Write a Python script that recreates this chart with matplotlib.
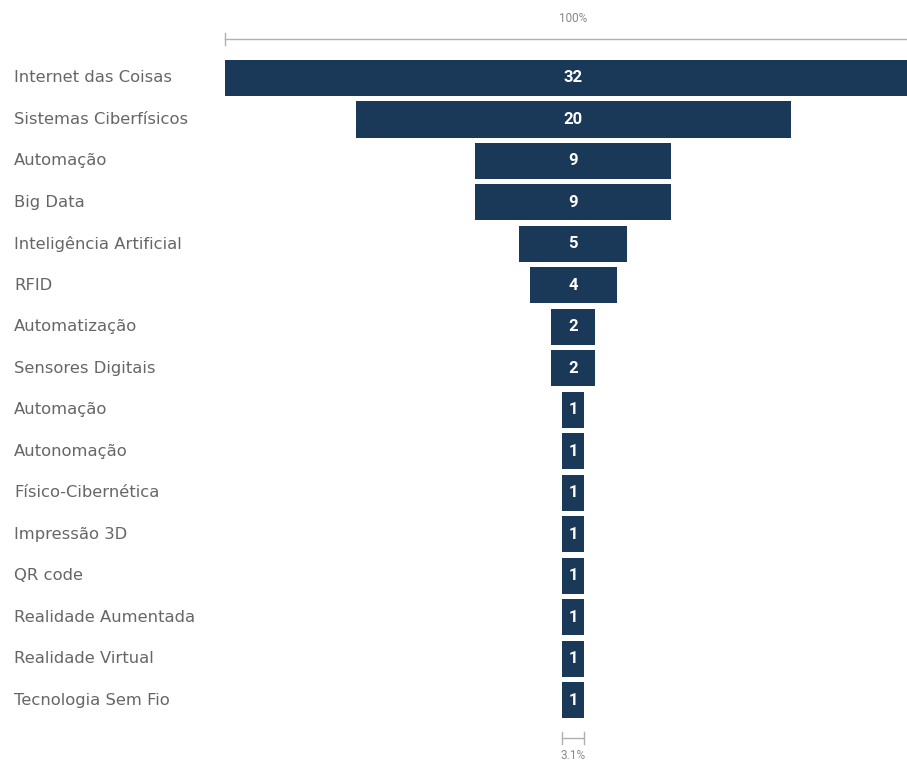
import matplotlib.pyplot as plt

# funnel data, top to bottom
categories = ['Internet das Coisas', 'Sistemas Ciberfísicos', 'Automação', 'Big Data',
              'Inteligência Artificial', 'RFID', 'Automatização', 'Sensores Digitais',
              'Automação', 'Autonomação', 'Físico-Cibernética', 'Impressão 3D',
              'QR code', 'Realidade Aumentada', 'Realidade Virtual', 'Tecnologia Sem Fio']
counts = [32, 20, 9, 9, 5, 4, 2, 2, 1, 1, 1, 1, 1, 1, 1, 1]
top_label = '100%'
bottom_label = '3.1%'

bar_color = '#1a3857'
text_color = '#666666'
axis_color = '#b0b0b0'

W, H = 907, 762
fig = plt.figure(figsize=(W / 100, H / 100), dpi=100)
ax = fig.add_axes([0, 0, 1, 1])

# scale: center of the funnel at x=573px, top bar half width 348px
cx_px, half_px = 573, 348
u = half_px / max(counts)                 # px per unit
ax.set_xlim(-cx_px / u, (W - cx_px) / u)
row0, pitch = 78, 41.47
ax.set_ylim((H - row0) / pitch, -row0 / pitch)
ax.axis('off')

ys = list(range(len(counts)))
ax.barh(ys, [2 * c for c in counts], left=[-c for c in counts],
        height=0.87, color=bar_color)

for y, c, name in zip(ys, counts, categories):
    ax.text(0, y, str(c), ha='center', va='center', color='white',
            fontsize=12, fontweight='bold', family='Roboto')
    ax.text(14 / W, y, name, transform=ax.get_yaxis_transform(),
            ha='left', va='center', color=text_color, fontsize=11.8,
            family='DejaVu Sans')

# top 100% scale line
top = max(counts)
y_line = (39 - row0) / pitch
ax.plot([-top, W / u], [y_line, y_line], color=axis_color, lw=1, clip_on=False)
ax.plot([-top, -top], [y_line - 0.15, y_line + 0.15], color=axis_color, lw=1)
ax.text(0, (18 - row0) / pitch, top_label, ha='center', va='center',
        color='#888888', fontsize=8.5, family='Roboto')

# bottom scale bracket for the smallest bar
low = min(counts)
y_b = (738 - row0) / pitch
ax.plot([-low, low], [y_b, y_b], color=axis_color, lw=1)
for xx in (-low, low):
    ax.plot([xx, xx], [y_b - 0.15, y_b + 0.15], color=axis_color, lw=1)
ax.text(0, (755 - row0) / pitch, bottom_label, ha='center', va='center',
        color='#888888', fontsize=8.5, family='Roboto')

fig.savefig('out.png', dpi=100)
